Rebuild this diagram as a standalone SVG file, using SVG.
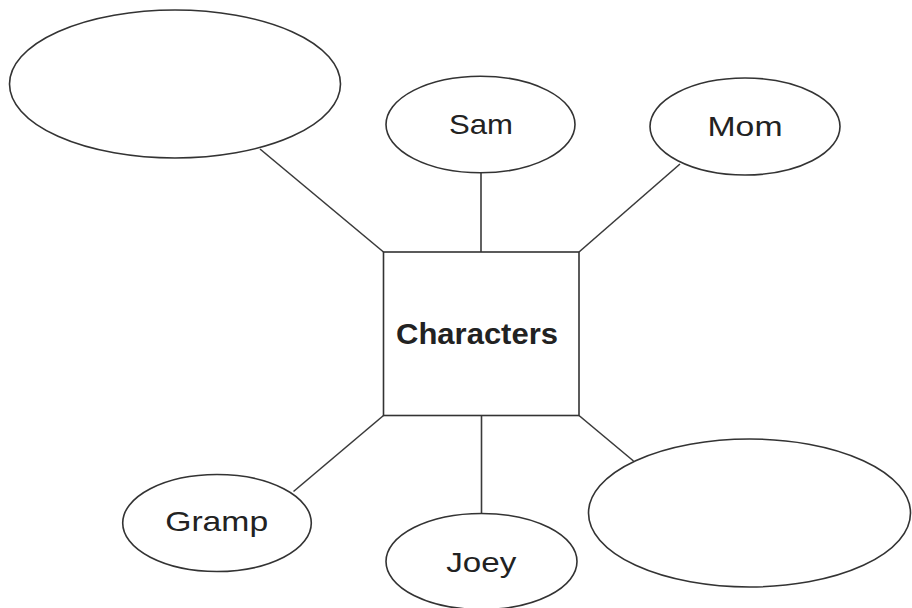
<svg xmlns="http://www.w3.org/2000/svg" width="912" height="608" viewBox="0 0 912 608">
<style>
.shape{fill:#fff;stroke:#333;stroke-width:1.6}
.conn line{stroke:#3a3a3a;stroke-width:1.6}
.lbl{font-family:"Liberation Sans",Arial,sans-serif;font-size:28px;fill:#222;text-anchor:middle}
.bold{font-weight:bold;font-size:29px}
</style>
<rect width="912" height="608" fill="#fff"/>
<g id="connectors" class="conn">
<line x1="260" y1="149" x2="383.5" y2="252"/>
<line x1="481" y1="172.5" x2="481" y2="252"/>
<line x1="680" y1="164" x2="579" y2="252"/>
<line x1="383.5" y1="415.5" x2="293.5" y2="491.5"/>
<line x1="481.5" y1="415.5" x2="481.5" y2="513.5"/>
<line x1="579" y1="415.5" x2="633.5" y2="461"/>
</g>
<g id="blank1"><ellipse class="shape" cx="175" cy="84" rx="165.5" ry="74"/></g>
<g id="sam"><ellipse class="shape" cx="480.5" cy="124.5" rx="94.5" ry="48.3"/><text class="lbl" x="481" y="134" textLength="64" lengthAdjust="spacingAndGlyphs">Sam</text></g>
<g id="mom"><ellipse class="shape" cx="745" cy="126.5" rx="95" ry="48.5"/><text class="lbl" x="745" y="136" textLength="75" lengthAdjust="spacingAndGlyphs">Mom</text></g>
<g id="characters"><rect class="shape" x="383.5" y="252" width="195.5" height="163.5"/><text class="lbl bold" x="477" y="344" textLength="162" lengthAdjust="spacingAndGlyphs">Characters</text></g>
<g id="gramp"><ellipse class="shape" cx="217" cy="523" rx="94.3" ry="48.5"/><text class="lbl" x="216.7" y="531" textLength="103" lengthAdjust="spacingAndGlyphs">Gramp</text></g>
<g id="joey"><ellipse class="shape" cx="481.5" cy="561.5" rx="95.5" ry="48"/><text class="lbl" x="481.3" y="571.5" textLength="70" lengthAdjust="spacingAndGlyphs">Joey</text></g>
<g id="blank2"><ellipse class="shape" cx="749.5" cy="513" rx="161" ry="74"/></g>
</svg>
